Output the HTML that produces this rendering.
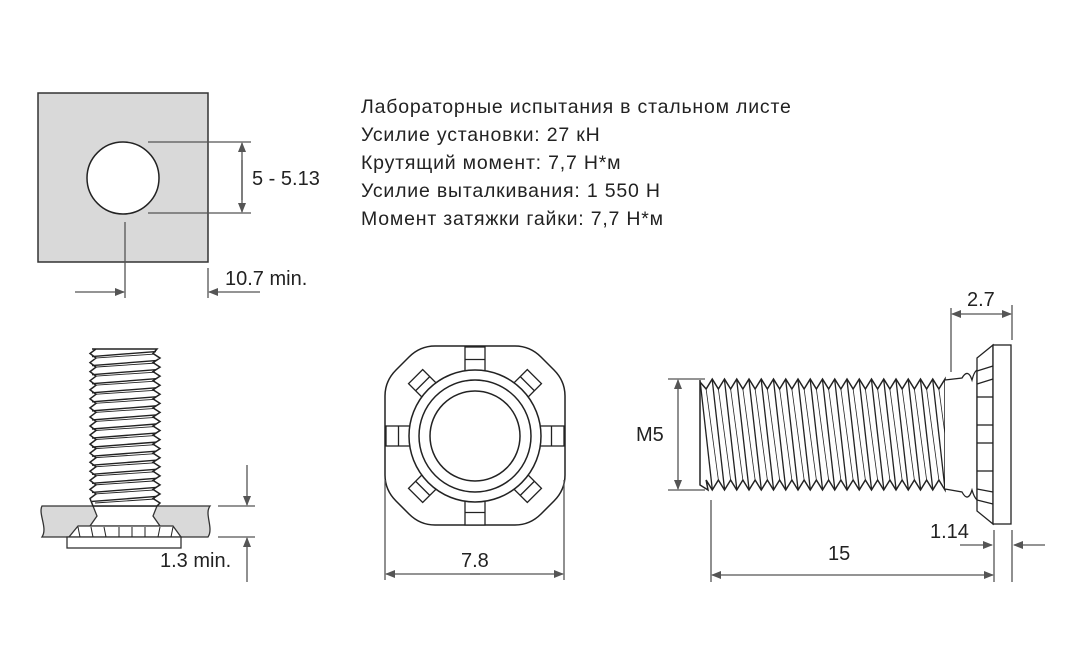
<!DOCTYPE html>
<html><head><meta charset="utf-8"><style>
html,body{margin:0;padding:0;background:#fff;width:1074px;height:672px;overflow:hidden}
svg{display:block}
.t{font-family:"Liberation Sans",sans-serif;font-size:20px;fill:#222}
.r{font-family:"Liberation Sans","DejaVu Sans",sans-serif;font-size:19.5px;letter-spacing:0.8px;fill:#222}
</style></head><body>
<svg id="s" width="1074" height="672" viewBox="0 0 1074 672" xmlns="http://www.w3.org/2000/svg">
<defs>
<marker id="a" markerWidth="10" markerHeight="8" refX="9" refY="4" orient="auto" markerUnits="userSpaceOnUse"><path d="M0,0 L10,4 L0,8 z" fill="#555"/></marker>
</defs>
<g stroke="#555" stroke-width="1.3" fill="none">
<rect x="38" y="93" width="170" height="169" fill="#d9d9d9" stroke="#333" stroke-width="1.5"/>
<circle cx="123" cy="178" r="36" fill="#fff" stroke="#222" stroke-width="1.5"/>
<line x1="148" y1="142" x2="251" y2="142"/><line x1="148" y1="213" x2="251" y2="213"/>
<line x1="242" y1="200" x2="242" y2="143" marker-end="url(#a)"/><line x1="242" y1="160" x2="242" y2="212" marker-end="url(#a)"/>
<line x1="125" y1="222" x2="125" y2="298"/><line x1="208" y1="268" x2="208" y2="298"/>
<line x1="75" y1="292" x2="124" y2="292" marker-end="url(#a)"/><line x1="260" y1="292" x2="209" y2="292" marker-end="url(#a)"/>
<path d="M42,506 L210,506 C204,514 214,528 208,537 L42,537 C48,528 38,514 42,506 z" fill="#d9d9d9" stroke="#333"/>
<path d="M93,506 L157,506 L153,516 L160,526 L90,526 L97,516 z" fill="#fff" stroke="#333"/>
<path d="M78,526 L173,526 L181,537 L69,537 z" fill="#fff" stroke="#333"/>
<rect x="67" y="537" width="114" height="11" fill="#fff" stroke="#333"/>
<g id="lb"></g>
<line x1="218" y1="506" x2="255" y2="506"/><line x1="218" y1="537" x2="255" y2="537"/>
<line x1="247" y1="465" x2="247" y2="505" marker-end="url(#a)"/><line x1="247" y1="582" x2="247" y2="538" marker-end="url(#a)"/>
<path d="M435,346 L515,346 Q530,346 541,357 L554,370 Q565,381 565,396 L565,475 Q565,490 554,501 L541,514 Q530,525 515,525 L435,525 Q420,525 409,514 L396,501 Q385,490 385,475 L385,396 Q385,381 396,370 L409,357 Q420,346 435,346 z" fill="#fff" stroke="#222" stroke-width="1.5"/>
<g id="mid" stroke="#222"></g>
<circle cx="475" cy="436" r="66" fill="#fff" stroke="#222" stroke-width="1.5"/>
<circle cx="475" cy="436" r="56" fill="#fff" stroke="#222" stroke-width="1.5"/>
<circle cx="475" cy="436" r="45" fill="#fff" stroke="#222" stroke-width="1.5"/>
<line x1="385" y1="480" x2="385" y2="580"/><line x1="564" y1="480" x2="564" y2="580"/>
<line x1="480" y1="574" x2="386" y2="574" marker-end="url(#a)"/><line x1="470" y1="574" x2="563" y2="574" marker-end="url(#a)"/>
<g id="rb" stroke="#222"></g>
<path d="M945,380 L962,378 Q968,368 972,380 Q974,372 977,370 L977,500 Q974,497 972,490 Q968,503 962,492 L945,489" fill="#fff" stroke="#222" stroke-width="1.3"/>
<path d="M977,358 L993,345 L993,524 L977,511 z" fill="#fff" stroke="#222"/>
<rect x="993" y="345" width="18" height="179" fill="#fff" stroke="#222"/>
<g stroke="#222"><line x1="977" y1="371" x2="993" y2="366"/><line x1="977" y1="384" x2="993" y2="379"/><line x1="977" y1="397" x2="993" y2="397"/><line x1="977" y1="425" x2="993" y2="425"/><line x1="977" y1="443" x2="993" y2="443"/><line x1="977" y1="471" x2="993" y2="471"/><line x1="977" y1="489" x2="993" y2="492"/><line x1="977" y1="500" x2="993" y2="504"/></g>
<line x1="668" y1="379" x2="705" y2="379"/><line x1="668" y1="490" x2="705" y2="490"/>
<line x1="678" y1="430" x2="678" y2="380" marker-end="url(#a)"/><line x1="678" y1="430" x2="678" y2="489" marker-end="url(#a)"/>
<line x1="711" y1="500" x2="711" y2="582"/><line x1="994" y1="530" x2="994" y2="582"/>
<line x1="850" y1="575" x2="712" y2="575" marker-end="url(#a)"/><line x1="850" y1="575" x2="993" y2="575" marker-end="url(#a)"/>
<line x1="951" y1="308" x2="951" y2="372"/><line x1="1012" y1="305" x2="1012" y2="340"/>
<line x1="980" y1="314" x2="952" y2="314" marker-end="url(#a)"/><line x1="980" y1="314" x2="1011" y2="314" marker-end="url(#a)"/>
<line x1="1012" y1="530" x2="1012" y2="582"/>
<line x1="960" y1="545" x2="992" y2="545" marker-end="url(#a)"/><line x1="1045" y1="545" x2="1014" y2="545" marker-end="url(#a)"/>
</g>
<text class="t" x="252" y="185">5 - 5.13</text>
<text class="t" x="225" y="285">10.7 min.</text>
<text class="t" x="160" y="567">1.3 min.</text>
<text class="t" x="461" y="567">7.8</text>
<text class="t" x="636" y="441">M5</text>
<text class="t" x="828" y="560">15</text>
<text class="t" x="967" y="306">2.7</text>
<text class="t" x="930" y="538">1.14</text>
<text class="r" x="361" y="113">Лабораторные испытания в стальном листе</text>
<text class="r" x="361" y="141">Усилие установки: 27 кН</text>
<text class="r" x="361" y="169">Крутящий момент: 7,7 Н*м</text>
<text class="r" x="361" y="197">Усилие выталкивания: 1 550 Н</text>
<text class="r" x="361" y="225">Момент затяжки гайки: 7,7 Н*м</text>
</svg>
<script>
var NS="http://www.w3.org/2000/svg";
function el(p,t,a){var e=document.createElementNS(NS,t);for(var k in a)e.setAttribute(k,a[k]);p.appendChild(e);return e;}
var rb=document.getElementById('rb');
var n=20,x0=700,xe=945,pp=(xe-x0)/n;
var tp="M"+x0+",382";
for(var i=0;i<n;i++){var x=x0+i*pp;tp+=" L"+(x+pp/2)+",389 L"+(x+pp)+",379";}
var bpts=[];for(var i=n;i>0;i--){var x=x0+i*pp;bpts.push(x+",490",(x-pp/2)+",480");}
el(rb,'path',{d:tp+" L"+xe+",379 L"+xe+",490 L"+bpts.join(" L")+" L"+(x0+8)+",490 L"+x0+",485 z",fill:'#fff','stroke-width':1.5});
for(var i=0;i<n;i++){var x=x0+i*pp;el(rb,'line',{x1:x,y1:380,x2:x+pp,y2:489,'stroke-width':1.3});el(rb,'line',{x1:x+pp/2,y1:389,x2:x+pp*1.5,y2:480,'stroke-width':0.8});}
var lb=document.getElementById('lb');
var m=17,y0=349,y1=503,q=(y1-y0)/m;
var d="M92,"+y0+" L157,"+y0;
for(var i=0;i<m;i++){var y=y0+i*q;d+=" L153,"+(y+q/2)+" L160,"+(y+q);}
d+=" L157,506 L93,506";
for(var i=m;i>0;i--){var y=y0+i*q;d+=" L90,"+(y-q/2)+" L96,"+(y-q);}
el(lb,'path',{d:d+" z",fill:'#fff',stroke:'#222','stroke-width':1.5});
for(var i=0;i<m;i++){var y=y0+i*q;el(lb,'line',{x1:92,y1:y+q/2+3,x2:156,y2:y+q/2-2,stroke:'#222','stroke-width':1.4});el(lb,'line',{x1:95,y1:y+q,x2:155,y2:y+q-4,stroke:'#222','stroke-width':0.9});}
for(var k=0;k<8;k++){var xx=80+k*13;el(lb,'line',{x1:xx+(k<3?-2:k>5?2:0),y1:527,x2:xx,y2:537,stroke:'#222','stroke-width':1});}
var mid=document.getElementById('mid');
for(var k=0;k<8;k++){var g=el(mid,'g',{transform:'rotate('+(k*45)+' 475 436)'});
var yt=k%2?352:347;
el(g,'rect',{x:465,y:yt,width:20,height:372-yt,fill:'#fff','stroke-width':1.3});
el(g,'line',{x1:465,y1:yt+(372-yt)/2,x2:485,y2:yt+(372-yt)/2,'stroke-width':1.3});}
</script>
</body></html>
